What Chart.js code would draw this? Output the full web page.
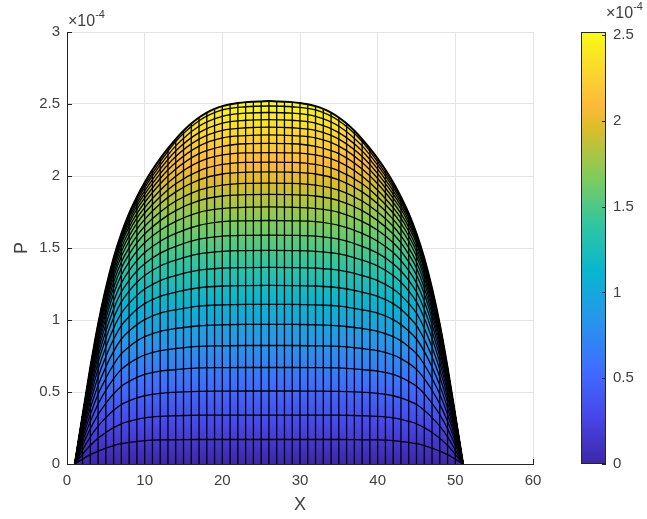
<!DOCTYPE html>
<html>
<head>
<meta charset="utf-8">
<script src="https://cdn.jsdelivr.net/npm/chart.js@4.4.0/dist/chart.umd.min.js"></script>
<style>
  html, body { margin: 0; padding: 0; background: #fff; }
</style>
</head>
<body>
<canvas id="surfChart" width="647" height="519"></canvas>
<script>
// ---- data (P in units of 1e-4) ----
// profiles are symmetric about X = 26, so only the left half is kept
const halfX = [1, 2, 3, 4, 5, 6, 7, 8, 9, 10, 12, 14, 17, 20, 23, 26];

// outer (last) profile, read at every grid column X = 1..26
const outlineHalf = [0, 0.335, 0.67, 0.97, 1.22, 1.43, 1.60, 1.74, 1.855, 1.955, 2.043, 2.121, 2.191,
  2.256, 2.314, 2.364, 2.406, 2.44, 2.466, 2.485, 2.498, 2.507, 2.513, 2.516, 2.518, 2.52];

// earlier profiles, sampled at halfX
const profileHalf = [
  [0, .034, .065, .090, .111, .128, .141, .150, .156, .162, .167, .168, .170, .170, .170, .170],
  [0, .067, .128, .178, .219, .253, .279, .296, .310, .321, .331, .335, .339, .340, .340, .340],
  [0, .098, .188, .263, .322, .373, .413, .438, .459, .474, .491, .498, .505, .506, .507, .507],
  [0, .128, .245, .343, .421, .488, .540, .574, .601, .622, .645, .655, .667, .669, .670, .670],
  [0, .155, .296, .416, .512, .593, .657, .699, .732, .757, .787, .802, .817, .821, .823, .823],
  [0, .179, .344, .484, .596, .691, .766, .815, .855, .885, .921, .941, .960, .967, .969, .969],
  [0, .203, .388, .546, .674, .782, .868, .923, .968, 1.003, 1.047, 1.071, 1.096, 1.105, 1.108, 1.108],
  [0, .223, .428, .604, .745, .866, .961, 1.023, 1.074, 1.114, 1.164, 1.194, 1.224, 1.236, 1.239, 1.240],
  [0, .242, .464, .657, .811, .943, 1.047, 1.115, 1.171, 1.215, 1.274, 1.309, 1.346, 1.360, 1.364, 1.365],
  [0, .258, .497, .704, .871, 1.014, 1.126, 1.201, 1.262, 1.309, 1.375, 1.416, 1.459, 1.477, 1.482, 1.483],
  [0, .272, .525, .746, .922, 1.075, 1.194, 1.275, 1.340, 1.391, 1.464, 1.512, 1.561, 1.582, 1.588, 1.590],
  [0, .284, .551, .783, .969, 1.131, 1.256, 1.343, 1.412, 1.468, 1.547, 1.601, 1.657, 1.683, 1.689, 1.691],
  [0, .295, .573, .816, 1.010, 1.182, 1.312, 1.403, 1.478, 1.537, 1.623, 1.685, 1.748, 1.774, 1.783, 1.785],
  [0, .303, .592, .842, 1.046, 1.224, 1.361, 1.456, 1.535, 1.597, 1.690, 1.760, 1.829, 1.861, 1.870, 1.872],
  [0, .310, .607, .866, 1.077, 1.262, 1.403, 1.502, 1.584, 1.651, 1.750, 1.826, 1.902, 1.937, 1.949, 1.951],
  [0, .316, .621, .888, 1.105, 1.296, 1.442, 1.547, 1.631, 1.699, 1.807, 1.890, 1.973, 2.014, 2.026, 2.028],
  [0, .321, .631, .906, 1.128, 1.325, 1.474, 1.583, 1.671, 1.743, 1.856, 1.946, 2.036, 2.080, 2.095, 2.097],
  [0, .324, .640, .921, 1.149, 1.352, 1.503, 1.616, 1.707, 1.780, 1.901, 1.999, 2.098, 2.146, 2.161, 2.163],
  [0, .329, .648, .935, 1.166, 1.373, 1.532, 1.645, 1.739, 1.816, 1.946, 2.048, 2.155, 2.206, 2.224, 2.226],
  [0, .331, .653, .946, 1.181, 1.390, 1.550, 1.670, 1.769, 1.846, 1.983, 2.093, 2.207, 2.264, 2.280, 2.285],
  [0, .332, .658, .955, 1.193, 1.400, 1.565, 1.692, 1.792, 1.874, 2.017, 2.136, 2.256, 2.317, 2.335, 2.340],
  [0, .332, .660, .959, 1.203, 1.410, 1.578, 1.713, 1.813, 1.897, 2.048, 2.174, 2.301, 2.368, 2.387, 2.392],
  [0, .332, .662, .964, 1.211, 1.418, 1.588, 1.726, 1.831, 1.919, 2.075, 2.209, 2.346, 2.414, 2.436, 2.441],
  [0, .331, .661, .965, 1.214, 1.424, 1.594, 1.735, 1.847, 1.937, 2.098, 2.240, 2.384, 2.459, 2.481, 2.486]
];

const xTicks = [0, 10, 20, 30, 40, 50, 60];
const yTicks = [0, 0.5, 1, 1.5, 2, 2.5, 3];
const cbTicks = [0, 0.5, 1, 1.5, 2, 2.5];
const cMax = 2.518;   // top of the colour range

// parula colormap stops
const parula = [
  [0.000, 'rgb(62,38,168)'], [0.111, 'rgb(71,71,235)'], [0.222, 'rgb(62,111,255)'],
  [0.333, 'rgb(39,150,235)'], [0.444, 'rgb(8,181,208)'], [0.556, 'rgb(49,198,159)'],
  [0.667, 'rgb(129,204,89)'], [0.778, 'rgb(220,189,41)'], [0.830, 'rgb(253,186,58)'],
  [0.889, 'rgb(252,207,48)'], [1.000, 'rgb(249,251,21)']
];

const axisColor = '#262626';
const textColor = '#404040';
const fontFam = "'Liberation Sans', Arial, sans-serif";
const meshWidth = 1.3;

// ---- build point lists ----
const lastX = 2 * halfX[halfX.length - 1];   // mirror x is 52 - x
function mirrorX(xs) { return xs.concat(xs.slice(0, -1).reverse().map(x => lastX - x)); }
function mirrorY(ys) { return ys.concat(ys.slice(0, -1).reverse()); }

const meshX = [];
for (let i = 1; i <= outlineHalf.length; i++) meshX.push(i);
const fullMeshX = mirrorX(meshX);
const fullOutline = mirrorY(outlineHalf);
const fullHalfX = mirrorX(halfX);

const outlinePts = fullMeshX.map((x, i) => ({x: x, y: fullOutline[i]}));

const verticalPts = [];
fullMeshX.forEach((x, i) => {
  if (fullOutline[i] <= 0) return;
  verticalPts.push({x: x, y: 0}, {x: x, y: fullOutline[i]}, {x: x, y: null});
});

function parulaGradient(ctx, y0, y1) {
  const g = ctx.createLinearGradient(0, y0, 0, y1);
  parula.forEach(s => g.addColorStop(s[0], s[1]));
  return g;
}

const datasets = [];
// coloured surface under the outer profile
datasets.push({
  data: outlinePts,
  showLine: true,
  cubicInterpolationMode: 'monotone',
  fill: 'origin',
  borderWidth: 0,
  pointRadius: 0,
  order: 10,
  backgroundColor: function(c) {
    const chart = c.chart;
    if (!chart.chartArea) return 'rgba(0,0,0,0)';
    const ys = chart.scales.y;
    return parulaGradient(chart.ctx, ys.getPixelForValue(0), ys.getPixelForValue(cMax));
  }
});
// grid columns
datasets.push({
  data: verticalPts,
  showLine: true,
  spanGaps: false,
  borderColor: '#000',
  borderWidth: meshWidth,
  pointRadius: 0,
  order: 1
});
// profiles
profileHalf.forEach(p => {
  const ys = mirrorY(p);
  datasets.push({
    data: fullHalfX.map((x, i) => ({x: x, y: ys[i]})),
    showLine: true,
    cubicInterpolationMode: 'monotone',
    borderColor: '#000',
    borderWidth: meshWidth,
    pointRadius: 0,
    order: 0
  });
});
datasets.push({
  data: outlinePts,
  showLine: true,
  cubicInterpolationMode: 'monotone',
  borderColor: '#000',
  borderWidth: 2,
  pointRadius: 0,
  order: 0
});

// ---- extras: inner ticks, exponent labels, colorbar ----
function drawExponent(ctx, x, y) {
  ctx.font = '16px ' + fontFam;
  ctx.fillStyle = textColor;
  ctx.textAlign = 'left';
  ctx.textBaseline = 'alphabetic';
  ctx.fillText('\u00d710', x, y);
  const w = ctx.measureText('\u00d710').width;
  ctx.font = '11px ' + fontFam;
  ctx.fillText('-4', x + w, y - 8);
}

const matlabExtras = {
  id: 'matlabExtras',
  beforeDatasetsDraw(chart) {
    const ctx = chart.ctx;
    const {left, bottom} = chart.chartArea;
    const xs = chart.scales.x, ys = chart.scales.y;
    ctx.save();
    ctx.strokeStyle = axisColor;
    ctx.lineWidth = 1;
    ctx.beginPath();
    xTicks.forEach(v => {
      const px = Math.round(xs.getPixelForValue(v)) + 0.5;
      ctx.moveTo(px, bottom); ctx.lineTo(px, bottom - 5);
    });
    yTicks.forEach(v => {
      const py = Math.round(ys.getPixelForValue(v)) + 0.5;
      ctx.moveTo(left, py); ctx.lineTo(left + 5, py);
    });
    ctx.stroke();
    ctx.restore();
  },
  afterDraw(chart) {
    const ctx = chart.ctx;
    const {left, top, bottom} = chart.chartArea;
    ctx.save();
    drawExponent(ctx, left + 1, top - 6);

    // colorbar
    const cbL = 581, cbR = 606, cbT = top, cbB = bottom;
    const cbY = v => cbB - v / cMax * (cbB - cbT);
    ctx.fillStyle = parulaGradient(ctx, cbB, cbT);
    ctx.fillRect(cbL, cbT, cbR - cbL, cbB - cbT);
    ctx.strokeStyle = axisColor;
    ctx.lineWidth = 1;
    ctx.strokeRect(cbL + 0.5, cbT + 0.5, cbR - cbL - 1, cbB - cbT - 1);
    ctx.beginPath();
    cbTicks.forEach(v => {
      const py = Math.round(cbY(v)) + 0.5;
      ctx.moveTo(cbR, py); ctx.lineTo(cbR - 4, py);
    });
    ctx.stroke();
    ctx.font = '15px ' + fontFam;
    ctx.fillStyle = textColor;
    ctx.textAlign = 'left';
    ctx.textBaseline = 'middle';
    cbTicks.forEach(v => ctx.fillText(String(v), cbR + 7, cbY(v)));
    drawExponent(ctx, cbR, top - 14);
    ctx.restore();
  }
};

const surfCtx = document.getElementById('surfChart').getContext('2d');
new Chart(surfCtx, {
  type: 'scatter',
  data: { datasets: datasets },
  plugins: [matlabExtras],
  options: {
    responsive: false,
    animation: false,
    events: [],
    layout: { padding: { left: 0, top: 32, right: 114, bottom: 0 } },
    plugins: { legend: { display: false }, tooltip: { enabled: false } },
    scales: {
      x: {
        type: 'linear',
        min: 0, max: 60,
        afterFit(scale) { scale.height = 55; },
        afterBuildTicks(scale) { scale.ticks = xTicks.map(v => ({value: v})); },
        ticks: { color: textColor, font: { size: 15, family: fontFam }, padding: 8,
                 callback: v => String(v) },
        grid: { color: '#e4e4e4', drawTicks: false },
        border: { color: axisColor, width: 1 },
        title: { display: true, text: 'X', color: textColor,
                 font: { size: 18, family: fontFam }, padding: { top: 0, bottom: 3 } }
      },
      y: {
        type: 'linear',
        min: 0, max: 3,
        afterFit(scale) { scale.width = 67; },
        afterBuildTicks(scale) { scale.ticks = yTicks.map(v => ({value: v})); },
        ticks: { color: textColor, font: { size: 15, family: fontFam }, padding: 7,
                 callback: v => String(v) },
        grid: { color: '#e4e4e4', drawTicks: false },
        border: { color: axisColor, width: 1 },
        title: { display: true, text: 'P', color: textColor,
                 font: { size: 18, family: fontFam }, padding: { top: 11, bottom: 0 } }
      }
    }
  }
});
</script>
</body>
</html>
